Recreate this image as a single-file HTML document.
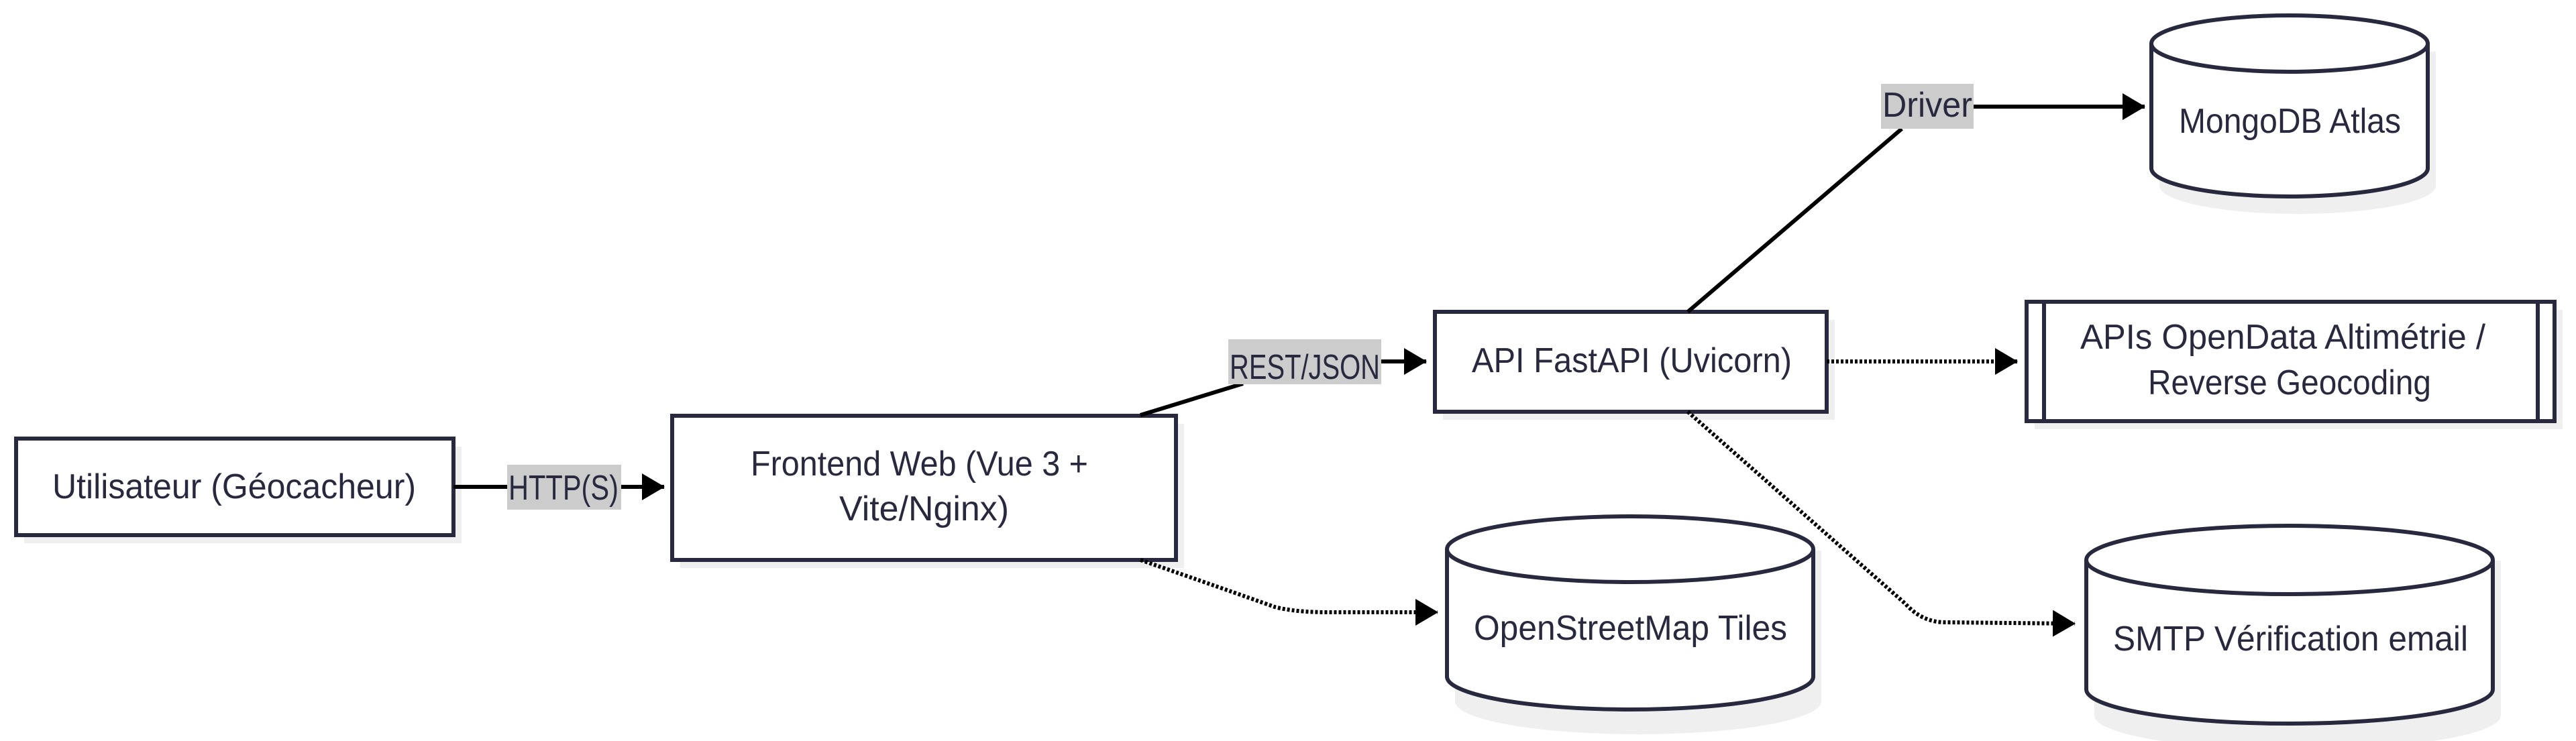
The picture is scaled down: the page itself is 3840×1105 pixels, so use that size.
<!DOCTYPE html>
<html><head><meta charset="utf-8"><style>
html,body{margin:0;padding:0;background:#fff;}
svg{display:block;}
text{font-family:"Liberation Sans",sans-serif;font-size:52px;fill:#28283e;}
</style></head><body>
<svg width="3840" height="1105" viewBox="0 0 3840 1105" xmlns="http://www.w3.org/2000/svg">
<defs>
<marker id="ah" markerWidth="34" markerHeight="40" refX="33" refY="20" orient="auto" markerUnits="userSpaceOnUse">
<path d="M0,0 L34,20 L0,40 Z" fill="#000"/>
</marker>
</defs>
<g fill="#efefef">
<rect x="36" y="666" width="652" height="144"/>
<rect x="1014" y="632" width="751" height="215"/>
<rect x="2151" y="477" width="584" height="149"/>
<rect x="3033" y="462" width="787" height="178"/>
<path d="M3219,77 v200 a206,42 0 0 0 412,0 v-200 z"/>
<path d="M2169,821 v225 a273,49 0 0 0 546,0 v-225 z"/>
<path d="M3122,836 v231 a303,51 0 0 0 606,0 v-231 z"/>
</g>
<g fill="#fff" stroke="#28283e" stroke-width="6">
<rect x="24" y="654" width="652" height="144"/>
<rect x="1002" y="620" width="751" height="215"/>
<rect x="2139" y="465" width="584" height="149"/>
<rect x="3021" y="450" width="787" height="178"/>
<line x1="3047" y1="450" x2="3047" y2="628"/>
<line x1="3783" y1="450" x2="3783" y2="628"/>
<path d="M3207,65 v186 a206,42 0 0 0 412,0 v-186"/>
<ellipse cx="3413" cy="65" rx="206" ry="42"/>
<path d="M2157,819 v190 a273,49 0 0 0 546,0 v-190"/>
<ellipse cx="2430" cy="819" rx="273" ry="49"/>
<path d="M3110,835 v193 a303,51 0 0 0 606,0 v-193"/>
<ellipse cx="3413" cy="835" rx="303" ry="51"/>
</g>
<g stroke="#000" stroke-width="6" fill="none">
<line x1="676" y1="726" x2="990" y2="726" marker-end="url(#ah)"/>
<line x1="1700" y1="619" x2="1853" y2="572"/>
<line x1="2059" y1="539" x2="2126" y2="539" marker-end="url(#ah)"/>
<line x1="2516" y1="465" x2="2835" y2="192"/>
<line x1="2941" y1="159" x2="3197" y2="159" marker-end="url(#ah)"/>
<line x1="2723" y1="539" x2="3007" y2="539" stroke-dasharray="4,3" marker-end="url(#ah)"/>
<path d="M1700,835 Q1830,880 1900,905 Q1930,913 1980,913 L2143,913" stroke-dasharray="4,3" marker-end="url(#ah)"/>
<path d="M2516,614 L2840,900 Q2865,928 2900,928 L3093,930" stroke-dasharray="4,3" marker-end="url(#ah)"/>
</g>
<g fill="#cccccc">
<rect x="756" y="693" width="170" height="67"/>
<rect x="1831" y="506" width="228" height="67"/>
<rect x="2804" y="125" width="138" height="67"/>
</g>
<text x="78" y="743" textLength="542" lengthAdjust="spacingAndGlyphs">Utilisateur (Géocacheur)</text>
<text x="758" y="745" textLength="164" lengthAdjust="spacingAndGlyphs">HTTP(S)</text>
<text x="1119" y="709" textLength="503" lengthAdjust="spacingAndGlyphs">Frontend Web (Vue 3 +</text>
<text x="1251" y="776" textLength="253" lengthAdjust="spacingAndGlyphs">Vite/Nginx)</text>
<text x="1833" y="565" textLength="224" lengthAdjust="spacingAndGlyphs">REST/JSON</text>
<text x="2194" y="555" textLength="477" lengthAdjust="spacingAndGlyphs">API FastAPI (Uvicorn)</text>
<text x="2806" y="174" textLength="134" lengthAdjust="spacingAndGlyphs">Driver</text>
<text x="3248" y="198" textLength="331" lengthAdjust="spacingAndGlyphs">MongoDB Atlas</text>
<text x="3101" y="520" textLength="604" lengthAdjust="spacingAndGlyphs">APIs OpenData Altimétrie /</text>
<text x="3202" y="588" textLength="422" lengthAdjust="spacingAndGlyphs">Reverse Geocoding</text>
<text x="2197" y="954" textLength="467" lengthAdjust="spacingAndGlyphs">OpenStreetMap Tiles</text>
<text x="3150" y="970" textLength="529" lengthAdjust="spacingAndGlyphs">SMTP Vérification email</text>
</svg>
</body></html>
